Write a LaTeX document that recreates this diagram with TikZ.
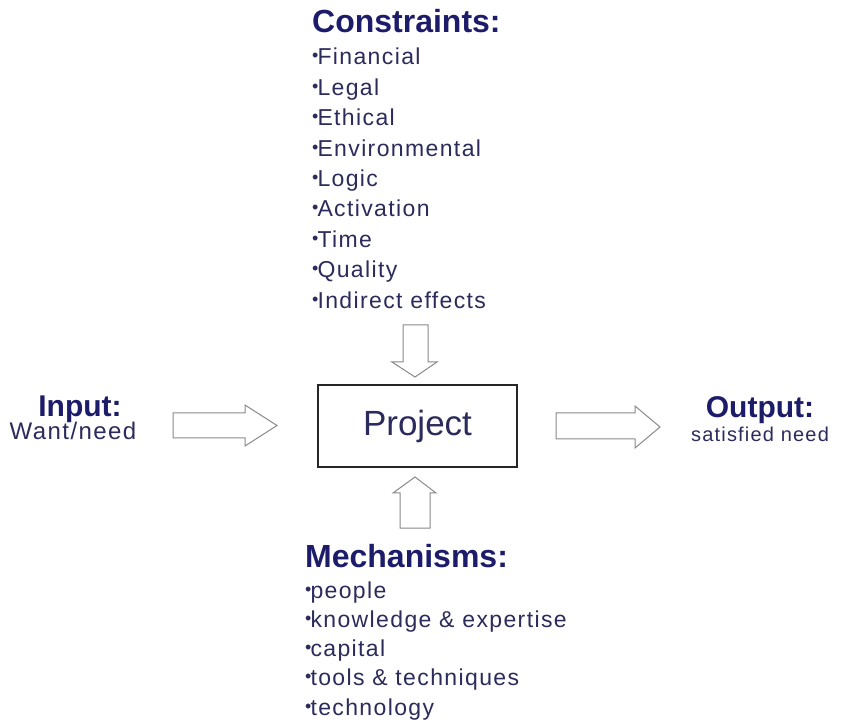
\documentclass[tikz,border=0pt]{standalone}
\usepackage{fontspec}
\setmainfont{Liberation Sans}
\newfontfamily\itemfont[LetterSpace=6]{Liberation Sans}
\definecolor{titlecol}{HTML}{1C1C6A}
\definecolor{itemcol}{HTML}{2B2B5C}
\definecolor{arrowcol}{HTML}{8A8A8A}
\newcommand{\bul}{{\fontsize{18}{18}\selectfont\raisebox{3pt}{•}}\kern-1pt}
\begin{document}
\begin{tikzpicture}[x=1pt,y=-1pt,
  titletext/.style={font=\fontsize{32}{32}\selectfont\bfseries, text=titlecol, inner sep=0pt, anchor=base west},
  itemtext/.style={font=\itemfont\fontsize{23}{23}\selectfont, text=itemcol, inner sep=0pt, anchor=base west},
  sidetitle/.style={font=\fontsize{30}{30}\selectfont\bfseries, text=titlecol, inner sep=0pt, anchor=base},
  sidetext/.style={font=\itemfont\fontsize{24}{24}\selectfont, text=itemcol, inner sep=0pt, anchor=base},
  blockarrow/.style={draw=arrowcol, fill=white, line width=1pt, line join=miter}
]
\useasboundingbox (0,0) rectangle (847,727);
\fill[white] (0,0) rectangle (847,727);

% Constraints
\node[titletext] (ctitle) at (312,33) {Constraints:};
\foreach \t [count=\i from 0] in {Financial,Legal,Ethical,Environmental,Logic,Activation,Time,Quality,Indirect effects}{
  \node[itemtext] (c\i) at (312,65+30.4*\i) {\bul\t};
}

% Project box
\node[draw=black!85, line width=1.3pt, minimum width=199pt, minimum height=82pt, inner sep=0pt,
      font=\fontsize{35}{35}\selectfont, text=itemcol] (proj) at (417.5,426) {Project};

% Down arrow (constraints -> project)
\draw[blockarrow] (403,325) -- (428,325) -- (428,362) -- (437,362) -- (415,377)
   -- (392,362) -- (403,362) -- cycle;
% Up arrow (mechanisms -> project)
\draw[blockarrow] (400,528) -- (430,528) -- (430,493) -- (436,493) -- (415,477)
   -- (393,493) -- (400,493) -- cycle;
% Left arrow (input -> project)
\draw[blockarrow] (173,413) -- (245,413) -- (245,405) -- (277,425.5) -- (245,446)
   -- (245,438) -- (173,438) -- cycle;
% Right arrow (project -> output)
\draw[blockarrow] (556,413) -- (635,413) -- (635,406) -- (660,427) -- (635,448)
   -- (635,439) -- (556,439) -- cycle;

% Input
\node[sidetitle] (intitle) at (80,417) {Input:};
\node[sidetext] (intext) at (73,440) {Want/need};

% Output
\node[sidetitle] (outtitle) at (760,418) {Output:};
\node[sidetext, font=\itemfont\fontsize{20}{20}\selectfont] (outtext) at (760,442) {satisfied need};

% Mechanisms
\node[titletext] (mtitle) at (305,567) {Mechanisms:};
\foreach \t [count=\i from 0] in {people,knowledge \& expertise,capital,tools \& techniques,technology}{
  \node[itemtext] (m\i) at (305,598+29.3*\i) {\bul\t};
}
\end{tikzpicture}
\end{document}
